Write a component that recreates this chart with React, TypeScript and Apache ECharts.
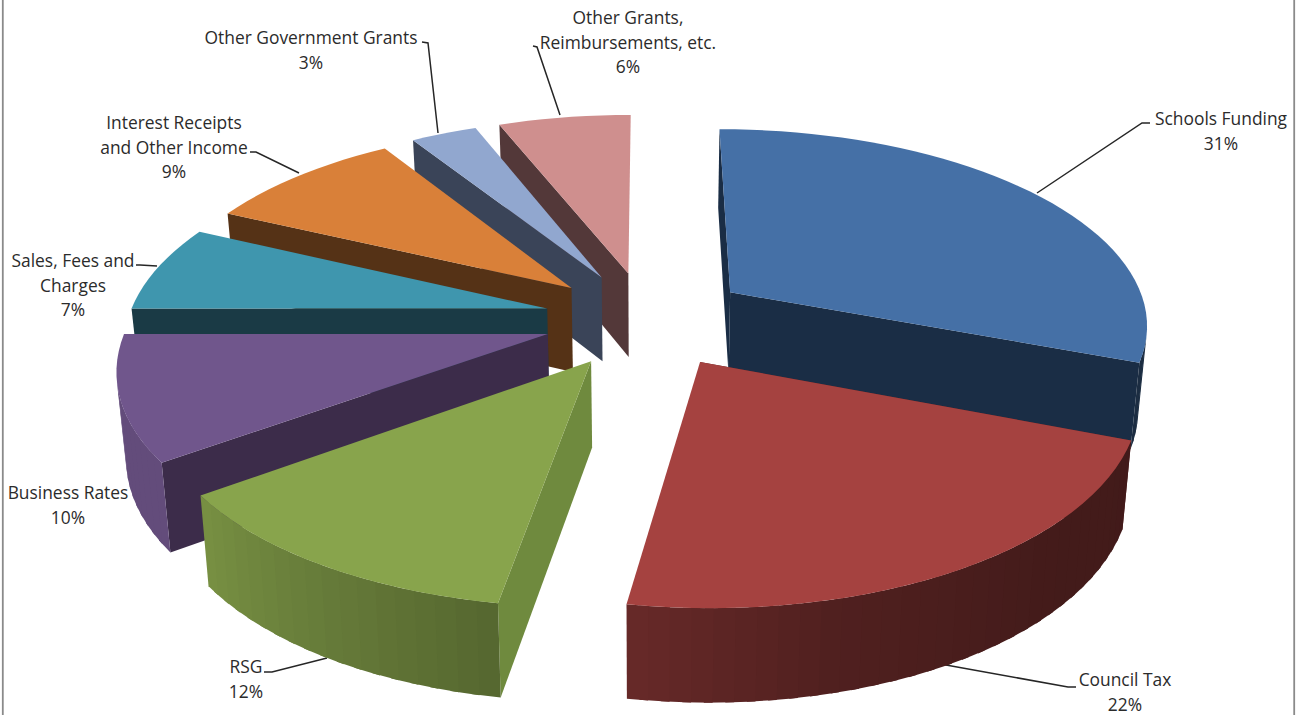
import React, { useEffect, useRef } from "react";
import * as echarts from "echarts";

const categories = ["Schools Funding", "Council Tax", "RSG", "Business Rates", "Sales, Fees and Charges", "Interest Receipts and Other Income", "Other Government Grants", "Other Grants, Reimbursements, etc."];
const labelLines = [["Schools Funding"], ["Council Tax"], ["RSG"], ["Business Rates"], ["Sales, Fees and", "Charges"], ["Interest Receipts", "and Other Income"], ["Other Government Grants"], ["Other Grants,", "Reimbursements, etc."]];
const values = [30.8, 21.8, 12.4, 10, 7, 9, 3, 6];

const topColors = ["#4570A6", "#A54240", "#88A44C", "#70568C", "#3F96AE", "#D98039", "#91A7CF", "#CF8F8E"];
const radialColors = ["#1A2D45", "#5A2222", "#6F8A3E", "#3C2C4A", "#1A3A45", "#553216", "#3A4458", "#533839"];

// layout of the labels: [centre x, first line y] and leader polyline
const labelPos = [[1221, 118], [1125, 679], [246, 666], [68, 492], [73, 260], [174, 122], [311, 37], [628, 17]];
const leaders = [
  [[1037, 193], [1142, 123], [1150, 123]],
  [[946, 665], [1068, 687], [1076, 687]],
  [[327, 658], [272, 672], [264, 672]],
  [],
  [[157, 266], [140, 265], [136, 265]],
  [[299, 173], [256, 152], [250, 152]],
  [[438, 133], [428, 43], [422, 42]],
  [[560, 115], [537, 47], [533, 46]],
];

// projection of the exploded 3D pie
const CX = 647, CY = 319, RX = 419, RY = 195, K = 0.15, EXPLODE = 0.246, DEPTH = 85, SHRINK = 0.982;
const project = (X: number, Y: number, Z: number) => {
  const s = 1 / (1 - K * Y);
  const x = CX + X * RX * s;
  const y = CY + Y * RY * s;
  return Z ? [CX + (x - CX) * SHRINK, y + DEPTH * (1 + 0.5 * (s - 1))] : [x, y];
};
const total = values.reduce((a, b) => a + b, 0);
const toAngle = (v: number) => (v / total) * Math.PI * 2;
const starts: number[] = [];
values.reduce((acc, v, i) => { starts[i] = acc; return acc + v; }, 0);
const geometry = (i: number) => {
  const a0 = toAngle(starts[i]);
  const a1 = toAngle(starts[i] + values[i]);
  const mid = (a0 + a1) / 2;
  const ox = Math.sin(mid) * EXPLODE;
  const oy = -Math.cos(mid) * EXPLODE;
  return { a0, a1, ox, oy };
};
const rim = (g: any, a: number, z: number) => project(g.ox + Math.sin(a), g.oy - Math.cos(a), z);
const drawOrder = values
  .map((_, i) => i)
  .sort((a, b) => project(geometry(a).ox, geometry(a).oy, 0)[1] - project(geometry(b).ox, geometry(b).oy, 0)[1]);

const shadeStops = [[0, 0.4], [111, 0.4], [135, 0.41], [165, 0.48], [190, 0.63], [234, 0.88], [360, 0.88]];
const shadeAt = (deg: number) => {
  for (let j = 1; j < shadeStops.length; j++) {
    if (deg <= shadeStops[j][0]) {
      const [d0, s0] = shadeStops[j - 1];
      const [d1, s1] = shadeStops[j];
      return s0 + ((deg - d0) / (d1 - d0)) * (s1 - s0);
    }
  }
  return 0.88;
};
const darken = (hex: string, f: number) => {
  const n = parseInt(hex.slice(1), 16);
  const c = [(n >> 16) & 255, (n >> 8) & 255, n & 255].map((v) => Math.round(v * f));
  return `rgb(${c[0]},${c[1]},${c[2]})`;
};

const renderItem = (params: any) => {
  const i = drawOrder[params.dataIndex];
  const g = geometry(i);
  const apexTop = project(g.ox, g.oy, 0);
  const apexBot = project(g.ox, g.oy, 1);
  const children: any[] = [];
  const poly = (points: number[][], fill: string) => ({
    type: "polygon",
    shape: { points },
    style: { fill, stroke: "none" },
    silent: true,
  });
  const faces = (a: number) => {
    const t = rim(g, a, 0);
    const b = rim(g, a, 1);
    return (t[0] - apexTop[0]) * (b[1] - t[1]) - (t[1] - apexTop[1]) * (b[0] - t[0]);
  };
  children.push(poly([apexTop, rim(g, g.a0, 0), rim(g, g.a0, 1), apexBot], radialColors[i]));
  if (faces(g.a1) > 1000) {
    children.push(poly([apexTop, rim(g, g.a1, 0), rim(g, g.a1, 1), apexBot], radialColors[i]));
  }
  const step = (2.5 * Math.PI) / 180;
  const overlap = step * 0.4;
  const n = Math.max(2, Math.ceil((g.a1 - g.a0) / step));
  const topPts: number[][] = [apexTop];
  for (let j = 0; j <= n; j++) {
    const a = g.a0 + ((g.a1 - g.a0) * j) / n;
    topPts.push(rim(g, a, 0));
    if (j < n) {
      const b = g.a0 + ((g.a1 - g.a0) * (j + 1)) / n;
      const p0 = rim(g, a, 0);
      const p1 = rim(g, b, 0);
      const p2 = rim(g, b, 1);
      const cross = (p1[0] - p0[0]) * (p2[1] - p1[1]) - (p1[1] - p0[1]) * (p2[0] - p1[0]);
      if (cross < 0) {
        const deg = (((a + b) / 2) * 180) / Math.PI;
        const e = j < n - 1 ? b + overlap : b;
        children.push(poly([p0, rim(g, e, 0), rim(g, e, 1), rim(g, a, 1)], darken(topColors[i], shadeAt(deg))));
      }
    }
  }
  children.push(poly(topPts, topColors[i]));
  return { type: "group", children };
};

const LINE_H = 24.5;
const FONT = "'Open Sans'";
const labelElements = () => {
  const els: any[] = [];
  categories.forEach((_, i) => {
    const lines = [...labelLines[i], `${Math.round(values[i])}%`];
    lines.forEach((t, j) => {
      els.push({
        type: "text",
        silent: true,
        style: {
          text: t,
          x: labelPos[i][0],
          y: labelPos[i][1] + j * LINE_H,
          textAlign: "center",
          textVerticalAlign: "middle",
          fontFamily: FONT,
          fontSize: 17.4,
          fill: "#2b2b2b",
        },
      });
    });
    if (leaders[i].length) {
      els.push({
        type: "polyline",
        silent: true,
        shape: { points: leaders[i] },
        style: { stroke: "#262626", lineWidth: 1.5, fill: "none" },
      });
    }
  });
  [2.8, 1294.2].forEach((x) => {
    els.push({
      type: "line",
      silent: true,
      shape: { x1: x, y1: 0, x2: x, y2: 715 },
      style: { stroke: "#8a8a8a", lineWidth: 1.8 },
    });
  });
  return els;
};

export default function App() {
  const ref = useRef<HTMLDivElement>(null);
  useEffect(() => {
    if (!ref.current) return;
    const chart = echarts.init(ref.current, undefined, { renderer: "svg" });
    chart.setOption({
      animation: false,
      backgroundColor: "#ffffff",
      series: [
        {
          type: "custom",
          coordinateSystem: "none",
          renderItem,
          data: drawOrder.map((i) => ({ name: categories[i], value: values[i] })),
        },
      ],
      graphic: { elements: labelElements() },
    });
    return () => chart.dispose();
  }, []);
  return <div ref={ref} style={{ position: "fixed", left: 0, top: 0, width: 1304, height: 715 }} />;
}
